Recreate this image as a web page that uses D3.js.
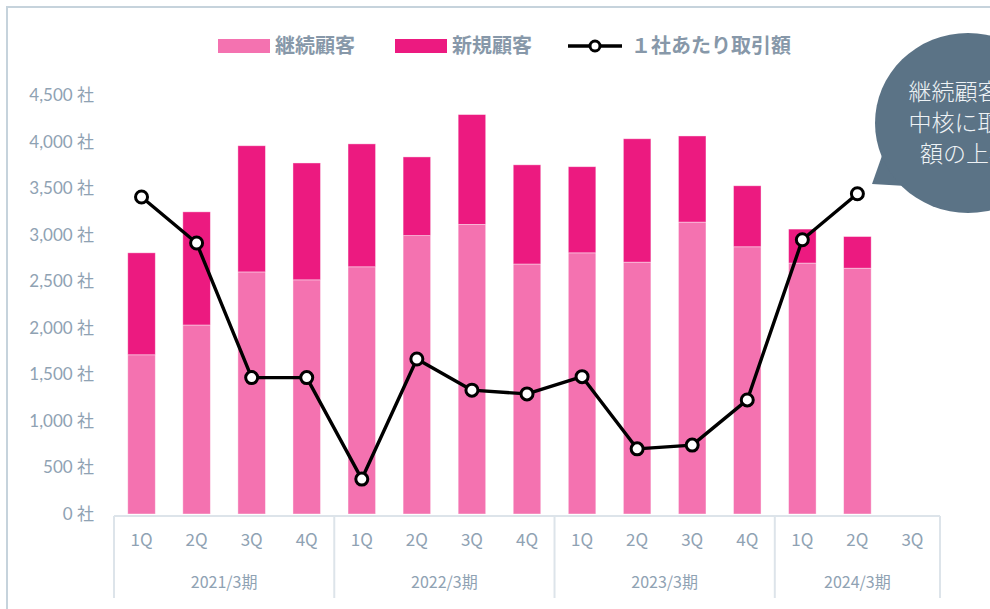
<!DOCTYPE html>
<html>
<head>
<meta charset="utf-8">
<script src="https://cdn.jsdelivr.net/npm/d3@7"></script>
<style>
  body { margin: 0; background: #fff; }
  svg { display: block; }
</style>
</head>
<body>
<svg id="chart" width="990" height="609"></svg>
<script>
// quarters shown on the x axis, grouped by fiscal year
const quarters = ["1Q", "2Q", "3Q", "4Q", "1Q", "2Q", "3Q", "4Q", "1Q", "2Q", "3Q", "4Q", "1Q", "2Q", "3Q"];
const fiscalYears = ["2021/3期", "2022/3期", "2023/3期", "2024/3期"];
const quartersPerYear = [4, 4, 4, 3];

// customers (社)
const continuing = [1710, 2030, 2600, 2515, 2655, 2990, 3110, 2685, 2805, 2705, 3135, 2870, 2695, 2640, null];
const newCustomers = [1095, 1215, 1355, 1255, 1320, 845, 1180, 1065, 925, 1325, 925, 655, 365, 340, null];
// transaction amount per company (drawn on the same vertical range)
const perCompany = [3405, 2910, 1465, 1465, 375, 1665, 1330, 1290, 1475, 700, 740, 1225, 2945, 3440, null];

const yTicks = [0, 500, 1000, 1500, 2000, 2500, 3000, 3500, 4000, 4500];
const legendItems = ["継続顧客", "新規顧客", "１社あたり取引額"];
const calloutLines = ["継続顧客が", "中核に取引", "額の上昇"];

const COLOR_CONT = "#f472b0";
const COLOR_NEW = "#ec1a80";
const TEXT_GREY = "#8fa2b3";
const FONT = "Lato, 'Noto Sans CJK JP', sans-serif";

const svg = d3.select("#chart");

// outer frame
svg.append("path")
  .attr("d", "M7,609 V7 H990")
  .attr("fill", "none")
  .attr("stroke", "#c6d3dc")
  .attr("stroke-width", 2);

const keys = quarters.map((q, i) => i);
const x = d3.scaleBand().domain(keys).range([114, 940]).paddingInner(0.5).paddingOuter(0.25);
const y = d3.scaleLinear().domain([0, 4500]).range([514, 95]);

// y axis labels
svg.append("g")
  .selectAll("text")
  .data(yTicks)
  .join("text")
  .attr("x", 94)
  .attr("y", (d) => y(d))
  .attr("dy", "0.35em")
  .attr("text-anchor", "end")
  .attr("fill", TEXT_GREY)
  .style("font-family", FONT)
  .style("font-size", "17px")
  .text((d) => d3.format(",")(d) + " 社");

// stacked bars
const rows = keys
  .filter((i) => continuing[i] != null)
  .map((i) => ({ key: i, cont: continuing[i], nw: newCustomers[i] }));
const stack = d3.stack().keys(["cont", "nw"])(rows);
const colors = { cont: COLOR_CONT, nw: COLOR_NEW };

svg.append("g")
  .selectAll("g")
  .data(stack)
  .join("g")
  .attr("fill", (s) => colors[s.key])
  .selectAll("rect")
  .data((s) => s)
  .join("rect")
  .attr("x", (d) => x(d.data.key))
  .attr("width", x.bandwidth())
  .attr("y", (d) => y(d[1]))
  .attr("height", (d) => y(d[0]) - y(d[1]))
  .attr("stroke", "#ffffff")
  .attr("stroke-opacity", 0.5)
  .attr("stroke-width", 0.8);

// x axis box: quarters and fiscal years
const axisG = svg.append("g").attr("stroke", "#dde4ea").attr("stroke-width", 2);
const step = x.step();
const x0 = 114;
axisG.append("line")
  .attr("x1", x0).attr("x2", x0 + step * quarters.length)
  .attr("y1", 516).attr("y2", 516);

let start = 0;
const yearBounds = [0];
quartersPerYear.forEach((n) => { start += n; yearBounds.push(start); });
axisG.selectAll("line.div")
  .data(yearBounds)
  .join("line")
  .attr("class", "div")
  .attr("x1", (d) => x0 + d * step).attr("x2", (d) => x0 + d * step)
  .attr("y1", 516).attr("y2", 598);

svg.append("g")
  .selectAll("text")
  .data(quarters)
  .join("text")
  .attr("x", (d, i) => x(i) + x.bandwidth() / 2)
  .attr("y", 546)
  .attr("text-anchor", "middle")
  .attr("fill", TEXT_GREY)
  .style("font-family", "'Noto Sans CJK JP', sans-serif")
  .style("font-size", "17px")
  .text((d) => d);

svg.append("g")
  .selectAll("text")
  .data(fiscalYears)
  .join("text")
  .attr("x", (d, i) => x0 + (yearBounds[i] + yearBounds[i + 1]) / 2 * step)
  .attr("y", 588)
  .attr("text-anchor", "middle")
  .attr("fill", TEXT_GREY)
  .style("font-family", "'Noto Sans CJK JP', sans-serif")
  .style("font-size", "16px")
  .text((d) => d);

// per-company line
const linePts = keys.filter((i) => perCompany[i] != null);
const line = d3.line()
  .x((i) => x(i) + x.bandwidth() / 2)
  .y((i) => y(perCompany[i]));

svg.append("path")
  .datum(linePts)
  .attr("d", line)
  .attr("fill", "none")
  .attr("stroke", "#000")
  .attr("stroke-width", 3.4)
  .attr("stroke-linejoin", "round");

svg.append("g")
  .selectAll("circle")
  .data(linePts)
  .join("circle")
  .attr("cx", (i) => x(i) + x.bandwidth() / 2)
  .attr("cy", (i) => y(perCompany[i]))
  .attr("r", 6)
  .attr("fill", "#fff")
  .attr("stroke", "#000")
  .attr("stroke-width", 3);

// legend
const legend = svg.append("g")
  .style("font-family", "'Noto Sans CJK JP', sans-serif")
  .style("font-size", "20px")
  .style("font-weight", "bold");
const legendX = [218, 395, 568];
legend.append("rect").attr("x", legendX[0]).attr("y", 39).attr("width", 52).attr("height", 14).attr("fill", COLOR_CONT);
legend.append("rect").attr("x", legendX[1]).attr("y", 39).attr("width", 52).attr("height", 14).attr("fill", COLOR_NEW);
legend.append("line").attr("x1", legendX[2]).attr("x2", legendX[2] + 54).attr("y1", 46).attr("y2", 46)
  .attr("stroke", "#000").attr("stroke-width", 3.4);
legend.append("circle").attr("cx", legendX[2] + 27).attr("cy", 46).attr("r", 5)
  .attr("fill", "#fff").attr("stroke", "#000").attr("stroke-width", 3);
legend.selectAll("text")
  .data(legendItems)
  .join("text")
  .attr("x", (d, i) => legendX[i] + (i === 2 ? 63 : 57))
  .attr("y", 53)
  .attr("fill", "#8798a9")
  .text((d) => d);

// callout bubble
const callout = svg.append("g");
callout.append("path")
  .attr("d", "M884,150 L872,184 L906,186 Z")
  .attr("fill", "#5b7386");
callout.append("ellipse")
  .attr("cx", 968).attr("cy", 123).attr("rx", 93).attr("ry", 90)
  .attr("fill", "#5b7386");
callout.selectAll("text")
  .data(calloutLines)
  .join("text")
  .attr("x", 966)
  .attr("y", (d, i) => 100 + i * 31)
  .attr("text-anchor", "middle")
  .attr("fill", "#eef2f5")
  .style("font-family", "'Noto Sans CJK JP', sans-serif")
  .style("font-size", "23px")
  .style("font-weight", 300)
  .text((d) => d);
</script>
</body>
</html>
